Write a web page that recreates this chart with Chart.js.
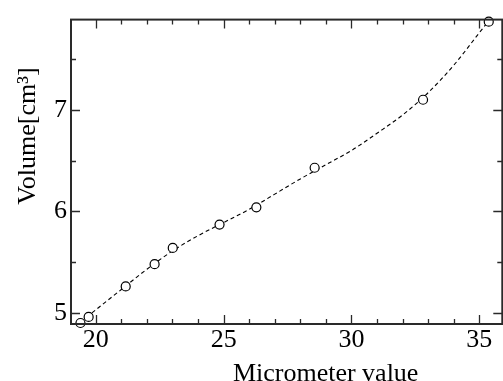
<!DOCTYPE html>
<html><head><meta charset="utf-8">
<script src="https://cdn.jsdelivr.net/npm/chart.js@4.4.0/dist/chart.umd.min.js"></script>
<style>html,body{margin:0;padding:0;overflow:hidden;background:#fff}canvas{display:block}</style>
</head><body>
<canvas id="c" width="508" height="381"></canvas>
<script>
// measured points
const pointX = [19.40, 19.72, 21.17, 22.30, 23.01, 24.84, 26.28, 28.56, 32.80, 35.37];
const pointY = [4.90, 4.96, 5.26, 5.48, 5.64, 5.87, 6.04, 6.43, 7.10, 7.87];
// dashed fitted curve
const curveX = [19.85, 21, 22, 23, 24, 25, 26, 27, 28, 29, 30, 31, 32, 33, 34, 35, 35.5];
const curveY = [5.00, 5.23, 5.43, 5.61, 5.76, 5.89, 6.02, 6.17, 6.32, 6.46, 6.60, 6.77, 6.95, 7.17, 7.44, 7.76, 7.92];
// ticks
const xMajor = [20, 25, 30, 35];
const xMinor = [21, 22, 23, 24, 26, 27, 28, 29, 31, 32, 33, 34];
const yMajor = [5, 6, 7];
const yMinor = [5.5, 6.5, 7.5];
const xRange = [19.03, 35.9];
const yRange = [4.89, 7.89];
const xTitle = 'Micrometer value';
const yTitle = 'Volume[cm\u00B3]';

const AX = '#2a2a2a';
const FONT = "'Liberation Serif','Times New Roman',serif";
const pad = n => ' '.repeat(n);

const frame = {
  id: 'frame',
  afterDatasetsDraw(chart) {
    const {ctx, chartArea: a, scales: {x, y}} = chart;
    ctx.save();
    ctx.strokeStyle = AX;
    ctx.lineWidth = 2;
    ctx.strokeRect(a.left, a.top, a.right - a.left, a.bottom - a.top);
    ctx.lineWidth = 1.3;
    const tx = (v, len) => {
      const p = Math.round(x.getPixelForValue(v)) + 0.5;
      ctx.beginPath();
      ctx.moveTo(p, a.bottom); ctx.lineTo(p, a.bottom - len);
      ctx.moveTo(p, a.top); ctx.lineTo(p, a.top + len);
      ctx.stroke();
    };
    const ty = (v, len) => {
      const p = Math.round(y.getPixelForValue(v)) + 0.5;
      ctx.beginPath();
      ctx.moveTo(a.left, p); ctx.lineTo(a.left + len, p);
      ctx.moveTo(a.right, p); ctx.lineTo(a.right - len, p);
      ctx.stroke();
    };
    xMajor.forEach(v => tx(v, 9));
    xMinor.forEach(v => tx(v, 5));
    yMajor.forEach(v => ty(v, 9));
    yMinor.forEach(v => ty(v, 5));
    ctx.restore();
  }
};

new Chart(document.getElementById('c'), {
  type: 'scatter',
  data: {
    datasets: [
      {
        label: 'measured',
        data: pointX.map((v, i) => ({x: v, y: pointY[i]})),
        pointStyle: 'circle',
        pointRadius: 4.5,
        pointBorderWidth: 1.2,
        pointBackgroundColor: '#fff',
        pointBorderColor: '#000',
        showLine: false,
        clip: false,
        order: 0
      },
      {
        label: 'fit',
        data: curveX.map((v, i) => ({x: v, y: curveY[i]})),
        showLine: true,
        pointRadius: 0,
        borderColor: '#000',
        borderWidth: 1.1,
        borderDash: [4, 3],
        cubicInterpolationMode: 'monotone',
        order: 1
      }
    ]
  },
  options: {
    responsive: false,
    animation: false,
    events: [],
    layout: {padding: {top: 13, right: 3, left: 0, bottom: 0}},
    plugins: {legend: {display: false}, tooltip: {enabled: false}},
    scales: {
      x: {
        type: 'linear', min: xRange[0], max: xRange[1],
        afterBuildTicks: s => { s.ticks = xMajor.map(v => ({value: v})); },
        afterFit: s => { s.height = 57; },
        grid: {display: false, drawTicks: false},
        border: {display: false},
        ticks: {color: '#000', font: {family: FONT, size: 26}, padding: 1},
        title: {display: true, text: pad(12) + xTitle, color: '#000',
                font: {family: FONT, size: 26, lineHeight: 0.52}, padding: {top: 0, bottom: 0}}
      },
      y: {
        type: 'linear', min: yRange[0], max: yRange[1],
        afterBuildTicks: s => { s.ticks = yMajor.map(v => ({value: v})); },
        afterFit: s => { s.width = 71; },
        grid: {display: false, drawTicks: false},
        border: {display: false},
        ticks: {color: '#000', font: {family: FONT, size: 26}, padding: 4},
        title: {display: true, text: pad(11) + yTitle, color: '#000',
                font: {family: FONT, size: 26, lineHeight: 2.15}, padding: {top: 0, bottom: 0}}
      }
    }
  },
  plugins: [frame]
});
</script>
</body></html>
